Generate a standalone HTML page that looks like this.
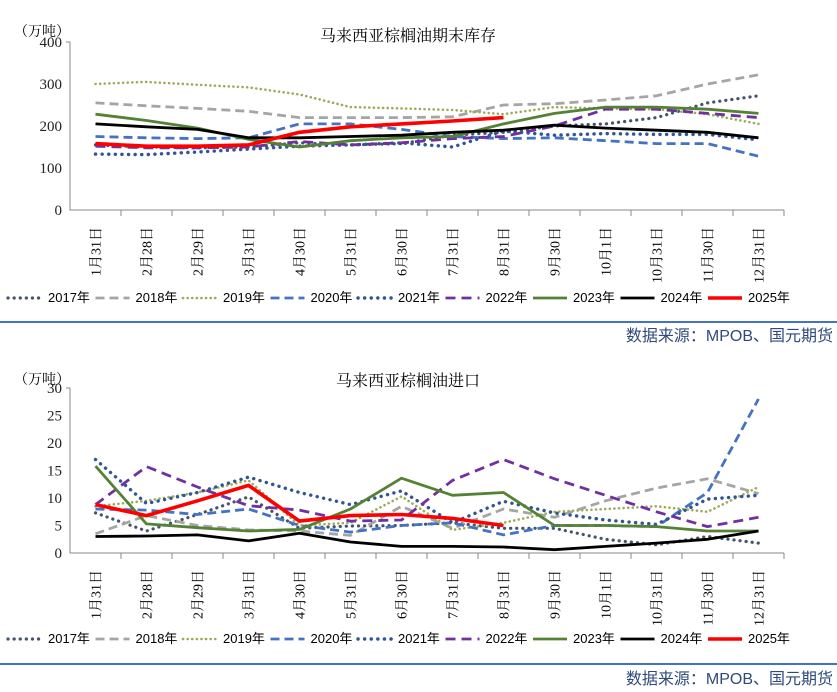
<!DOCTYPE html>
<html><head><meta charset="utf-8"><style>
body{margin:0;background:#fff;}
svg{display:block;font-family:"Liberation Serif","Noto Serif CJK SC",serif;}
.leg{font-family:"Liberation Sans","Noto Sans CJK SC",sans-serif;font-size:13px;}
.src{font-family:"Liberation Sans","Noto Sans CJK SC",sans-serif;font-size:16px;fill:#2f4a7a;}
</style></head><body>
<svg id="c" width="837" height="692" viewBox="0 0 837 692">
<text x="14" y="36" font-size="14">（万吨）</text>
<text x="408" y="41" font-size="16" text-anchor="middle">马来西亚棕榈油期末库存</text>
<text x="14" y="384" font-size="14">（万吨）</text>
<text x="408" y="386" font-size="16" text-anchor="middle">马来西亚棕榈油进口</text>
<line x1="0" y1="322" x2="837" y2="322" stroke="#4472c4" stroke-width="2"/>
<text class="src" x="833" y="341" text-anchor="end">数据来源：MPOB、国元期货</text>
<line x1="0" y1="664" x2="837" y2="664" stroke="#4472c4" stroke-width="2"/>
<text class="src" x="833" y="684" text-anchor="end">数据来源：MPOB、国元期货</text>
</svg>
<script>
const categories=["1月31日","2月28日","2月29日","3月31日","4月30日","5月31日","6月30日","7月31日","8月31日","9月30日","10月1日","10月31日","11月30日","12月31日"];
const years=["2017年","2018年","2019年","2020年","2021年","2022年","2023年","2024年","2025年"];
const stockTicks=[0,100,200,300,400];
const importTicks=[0,5,10,15,20,25,30];
const stock2017=[155,150,148,150,160,155,158,178,185,200,205,220,255,272];
const stock2018=[255,248,242,235,220,220,220,222,250,253,262,272,300,322];
const stock2019=[300,305,298,292,275,245,242,238,228,245,242,240,228,205];
const stock2020=[175,172,170,172,205,205,192,175,170,172,165,158,158,128];
const stock2021=[133,132,138,145,152,155,160,150,188,178,182,180,180,167];
const stock2022=[152,148,148,150,163,155,160,170,175,200,240,240,230,220];
const stock2023=[228,213,195,168,150,165,172,175,205,230,245,245,240,230];
const stock2024=[205,198,192,172,172,175,178,185,190,202,195,190,185,172];
const stock2025=[158,152,152,155,185,198,205,212,220];
const imp2017=[7.3,4,7,10.2,4.5,4.9,5,5.5,4.5,4.5,2.5,1.5,3,1.8];
const imp2018=[3.5,6.8,5,4.2,4,3.2,8.5,4.5,8,6.5,9.5,11.8,13.5,10.8];
const imp2019=[8.5,9.5,11,13.2,5,5.5,10.3,4.2,5.5,7.5,8,8.5,7.5,12];
const imp2020=[8,7.8,7,8,5,3.8,5,5.5,3.3,5,5,4.8,11,28];
const imp2021=[17,9,11,13.8,11,8.8,11.3,5.5,9.4,7.3,6,5.2,9.8,10.5];
const imp2022=[8.8,15.7,12,8.6,7.8,5.8,6,13.2,17,13.5,10.5,7.5,4.8,6.5];
const imp2023=[15.8,5.3,4.6,4,4.3,8,13.6,10.5,11,5,5,4.8,4,4];
const imp2024=[3,3.1,3.3,2.2,3.6,2,1.2,1.2,1.1,0.6,1.2,1.8,2.5,4];
const imp2025=[8.8,6.8,9.5,12.3,5.8,6.8,7,6.3,5];

const styles=[
 {c:"#44546a",w:3.2,d:"0.1 6",cap:"round"},
 {c:"#a5a5a5",w:2.8,d:"9 5",cap:"butt"},
 {c:"#9bab5a",w:2.6,d:"0.1 4.5",cap:"round"},
 {c:"#4472c4",w:2.8,d:"9 5",cap:"butt"},
 {c:"#2f5597",w:3.4,d:"0.1 6.5",cap:"round"},
 {c:"#7030a0",w:2.8,d:"10 6",cap:"butt"},
 {c:"#548235",w:2.8,d:"",cap:"butt"},
 {c:"#000000",w:2.8,d:"",cap:"butt"},
 {c:"#ff0000",w:3.6,d:"",cap:"butt"}];
const NS="http://www.w3.org/2000/svg";
const svg=document.getElementById('c');
function mk(t,a,p){const e=document.createElementNS(NS,t);for(const k in a)e.setAttribute(k,a[k]);(p||svg).appendChild(e);return e;}
const X0=70,X1=784,step=(X1-X0)/categories.length;
function xs(i){return X0+step*(i+0.5);}
function drawChart(prefix,series,ticks,max,yTop,yBot,labTop,legY){
  const ys=v=>yBot-(v/max)*(yBot-yTop);
  const g=mk('g',{});
  
  
  ticks.forEach(t=>{const tx=mk('text',{x:X0-8,y:ys(t)+5,'font-size':15,'text-anchor':'end',fill:'#222'},g);tx.textContent=t;
    
    });
  const ax=mk('path',{d:`M${X0-4} ${yTop}H${X0}V${yBot}H${X1}`,fill:'none',stroke:'#888','stroke-width':1},g);
  
  
  for(let i=1;i<=categories.length;i++){mk('line',{x1:X0+step*i,y1:yBot,x2:X0+step*i,y2:yBot+6,stroke:'#888'},g);}
  categories.forEach((c,i)=>{const t=mk('text',{x:0,y:0,'font-size':14,'text-anchor':'end',transform:`translate(${xs(i)+5},${labTop}) rotate(-90)`},g);t.textContent=c;
    
    });
  series.forEach((s,k)=>{const st=styles[k];
    const p=mk('path',{d:s.map((v,i)=>(i?'L':'M')+xs(i).toFixed(1)+' '+ys(v).toFixed(1)).join(''),fill:'none',stroke:st.c,'stroke-width':st.w,'stroke-dasharray':st.d,'stroke-linecap':st.cap,'stroke-linejoin':'round'},g);
    
    });
  years.forEach((y,k)=>{const st=styles[k];const lx=8+k*87.5;
    const lg=mk('g',{},g);
    
    
    mk('line',{x1:lx,y1:legY-4,x2:lx+34,y2:legY-4,stroke:st.c,'stroke-width':st.w,'stroke-dasharray':st.d,'stroke-linecap':st.cap},lg);
    const t=mk('text',{x:lx+40,y:legY,class:'leg'},lg);t.textContent=y;});
}
drawChart('stock',[stock2017,stock2018,stock2019,stock2020,stock2021,stock2022,stock2023,stock2024,stock2025],stockTicks,400,42,210,227,302);
drawChart('import',[imp2017,imp2018,imp2019,imp2020,imp2021,imp2022,imp2023,imp2024,imp2025],importTicks,30,388,553,570,643);
</script>
</body></html>
